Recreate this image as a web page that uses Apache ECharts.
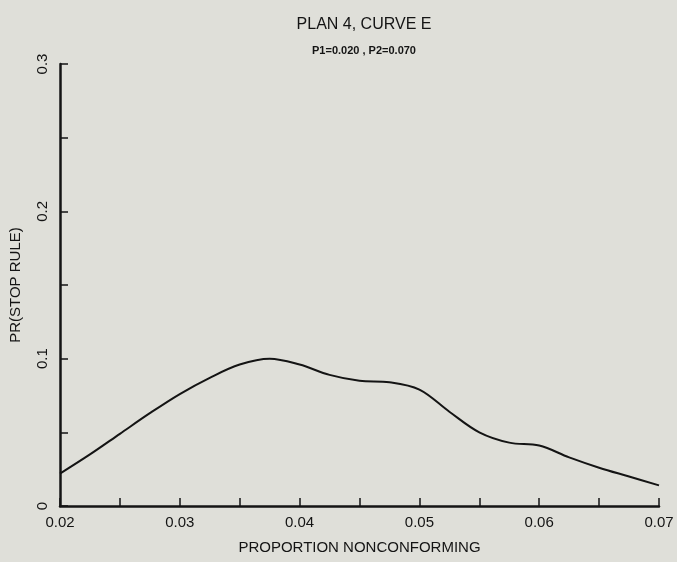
<!DOCTYPE html>
<html>
<head>
<meta charset="utf-8">
<script src="https://cdn.jsdelivr.net/npm/echarts@6/dist/echarts.min.js"></script>
<style>
  html, body { margin: 0; padding: 0; background: #dfdfd9; }
  #chart { width: 677px; height: 562px; }
</style>
</head>
<body>
<div id="chart"></div>
<script>
// proportion nonconforming (x) and probability of stop rule (y)
var proportion = [0.02, 0.0225, 0.025, 0.0275, 0.03, 0.0325, 0.035, 0.0375, 0.04, 0.0425,
                  0.045, 0.0475, 0.05, 0.0525, 0.055, 0.0575, 0.06, 0.0625, 0.065, 0.0675, 0.07];
var prStop = [0.022, 0.035, 0.049, 0.063, 0.076, 0.087, 0.096, 0.100, 0.096, 0.089,
              0.085, 0.084, 0.079, 0.064, 0.050, 0.043, 0.041, 0.033, 0.026, 0.020, 0.014];
var yTickLabels = ['0', '0.1', '0.2', '0.3'];

var ink = '#141414';
var font = 'Liberation Sans';

var points = proportion.map(function (p, i) { return [p, prStop[i]]; });

var chart = echarts.init(document.getElementById('chart'));
chart.setOption({
    backgroundColor: '#dfdfd9',
    animation: false,
    title: {
        text: 'PLAN 4, CURVE E',
        subtext: 'P1=0.020 , P2=0.070',
        left: 359,
        textAlign: 'center',
        top: 12,
        itemGap: 12,
        textStyle: { color: ink, fontFamily: font, fontSize: 16, fontWeight: 'normal' },
        subtextStyle: { color: ink, fontFamily: font, fontSize: 11, fontWeight: 'bold' }
    },
    grid: { left: 60, right: 18, top: 64, bottom: 56, containLabel: false },
    xAxis: {
        type: 'value',
        min: 0.02,
        max: 0.07,
        interval: 0.005,
        name: 'PROPORTION NONCONFORMING',
        nameLocation: 'middle',
        nameGap: 34,
        nameTextStyle: { color: ink, fontFamily: font, fontSize: 15 },
        axisLine: { lineStyle: { color: ink, width: 2.5 } },
        axisTick: { inside: true, length: 8, lineStyle: { color: ink, width: 1.5 } },
        splitLine: { show: false },
        axisLabel: {
            color: ink, fontFamily: font, fontSize: 15, margin: 9,
            formatter: function (v) {
                var k = Math.round(v * 1000);
                return k % 10 === 0 ? (k / 1000).toFixed(2) : '';
            }
        }
    },
    yAxis: {
        type: 'value',
        min: 0,
        max: 0.3,
        interval: 0.05,
        name: 'PR(STOP RULE)',
        nameLocation: 'middle',
        nameGap: 37,
        nameTextStyle: { color: ink, fontFamily: font, fontSize: 15 },
        axisLine: { lineStyle: { color: ink, width: 2.5 } },
        axisTick: { inside: true, length: 8, lineStyle: { color: ink, width: 1.5 } },
        splitLine: { show: false },
        axisLabel: {
            color: ink, fontFamily: font, fontSize: 15, rotate: 90, margin: 10,
            formatter: function (v) {
                var k = Math.round(v * 100);
                return k % 10 === 0 ? yTickLabels[k / 10] : '';
            }
        }
    },
    series: [{
        type: 'line',
        data: points,
        smooth: 0.35,
        showSymbol: false,
        lineStyle: { color: ink, width: 2 }
    }]
});
</script>
</body>
</html>
